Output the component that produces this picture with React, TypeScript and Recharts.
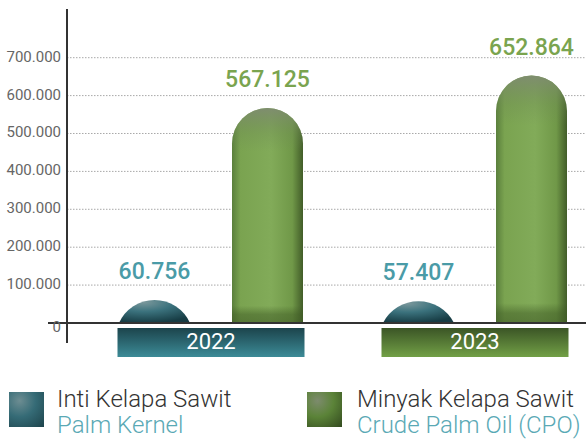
import { Bar, BarChart, CartesianGrid, LabelList, ReferenceLine, XAxis, YAxis } from "recharts";

const years = ["2022", "2023"];
const palmKernel = [60756, 57407];
const crudePalmOil = [567125, 652864];
const yTicks = [0, 100000, 200000, 300000, 400000, 500000, 600000, 700000];

const data = years.map((year, i) => ({
  year,
  pk: palmKernel[i],
  cpo: crudePalmOil[i],
}));

const FONT = "Roboto, 'DejaVu Sans', sans-serif";

function fmt(n: number) {
  return String(n).replace(/\B(?=(\d{3})+(?!\d))/g, ".");
}

// rounded top: full half-circle when tall enough, circular cap otherwise
function capsulePath(x: number, y: number, w: number, h: number) {
  const r = w / 2;
  const b = y + h;
  if (h >= r) {
    return `M${x},${b} L${x},${y + r} A${r},${r} 0 0 1 ${x + w},${y + r} L${x + w},${b} Z`;
  }
  const R = (w * w / 4 + h * h) / (2 * h);
  return `M${x},${b} A${R},${R} 0 0 1 ${x + w},${b} Z`;
}

function PkShape(props: any) {
  const { x, y, width, height } = props;
  if (!height || height <= 0) return null;
  return <path d={capsulePath(x, y, width, height)} fill="url(#pkFill)" />;
}

function CpoShape(props: any) {
  const { x, y, width, height } = props;
  if (!height || height <= 0) return null;
  const d = capsulePath(x, y, width, height);
  return (
    <g>
      <path d={d} fill="url(#cpoSide)" />
      <path d={d} fill="url(#cpoVert)" />
    </g>
  );
}

function YearTick(props: any) {
  const { x, y, payload, index } = props;
  const w = 187;
  const h = 29;
  const top = y - 15;
  return (
    <g>
      <rect x={x - w / 2} y={top} width={w} height={h} fill={index === 0 ? "url(#box22)" : "url(#box23)"} />
      <text
        x={x}
        y={top + h / 2 + 1}
        textAnchor="middle"
        dominantBaseline="middle"
        fill="#fff"
        fontSize={22}
        fontFamily={FONT}
      >
        {payload.value}
      </text>
    </g>
  );
}

function ValueTick(props: any) {
  const { x, y, payload } = props;
  const zero = payload.value === 0;
  return (
    <g>
      {zero && <line x1={x - 13} x2={x + 6} y1={y} y2={y} stroke="#333" strokeWidth={2} />}
      <text
        x={x}
        y={zero ? y + 5 : y}
        textAnchor="end"
        dominantBaseline="middle"
        fill="#666"
        fontSize={15}
        fontFamily={FONT}
      >
        {fmt(payload.value)}
      </text>
    </g>
  );
}

function Swatch({ kind, left }: { kind: "pk" | "cpo"; left: number }) {
  const bg =
    kind === "pk"
      ? "radial-gradient(circle at 30% 25%, #6d8d92 0%, #356b76 45%, #1d434b 100%)"
      : "radial-gradient(circle at 30% 25%, #7d8b6d 0%, #5b8338 45%, #334a1f 100%)";
  return <div style={{ position: "absolute", left, top: 392, width: 35, height: 35, background: bg }} />;
}

function LegendText({ left, top, sub }: { left: number; top: string; sub: string }) {
  return (
    <div
      style={{
        position: "absolute",
        left,
        top: 386,
        fontSize: 24,
        lineHeight: "26px",
        fontWeight: 300,
        whiteSpace: "nowrap",
      }}
    >
      <div style={{ color: "#333" }}>{top}</div>
      <div style={{ color: "#5aa9b5" }}>{sub}</div>
    </div>
  );
}

export default function App() {
  return (
    <div style={{ position: "relative", width: 586, height: 439, overflow: "hidden", fontFamily: FONT }}>
      <style>{"body{margin:0}"}</style>
      <BarChart
        width={607}
        height={372}
        data={data}
        margin={{ top: 9, right: 0, left: 0, bottom: 0 }}
        barSize={71}
        barGap={42}
        barCategoryGap={0}
      >
        <defs>
          <radialGradient id="pkFill" cx="0.35" cy="0.1" r="0.9">
            <stop offset="0%" stopColor="#7a979b" />
            <stop offset="45%" stopColor="#3b727d" />
            <stop offset="100%" stopColor="#173c44" />
          </radialGradient>
          <linearGradient id="cpoSide" x1="0" y1="0" x2="1" y2="0">
            <stop offset="0%" stopColor="#5a7f3c" />
            <stop offset="12%" stopColor="#7aa350" />
            <stop offset="55%" stopColor="#82ab59" />
            <stop offset="85%" stopColor="#709848" />
            <stop offset="100%" stopColor="#425d29" />
          </linearGradient>
          <linearGradient id="cpoVert" x1="0" y1="0" x2="0" y2="1">
            <stop offset="0%" stopColor="#7f8a72" stopOpacity={0.9} />
            <stop offset="12%" stopColor="#6f8a55" stopOpacity={0.3} />
            <stop offset="20%" stopColor="#6f8a55" stopOpacity={0} />
            <stop offset="92%" stopColor="#3e5a24" stopOpacity={0} />
            <stop offset="96%" stopColor="#3e5a24" stopOpacity={0.5} />
            <stop offset="100%" stopColor="#3e5a24" stopOpacity={0.6} />
          </linearGradient>
          <linearGradient id="box22" x1="0" y1="0" x2="0" y2="1">
            <stop offset="0%" stopColor="#1c444c" />
            <stop offset="100%" stopColor="#3c8b97" />
          </linearGradient>
          <linearGradient id="box23" x1="0" y1="0" x2="0" y2="1">
            <stop offset="0%" stopColor="#3b5526" />
            <stop offset="100%" stopColor="#72a046" />
          </linearGradient>
        </defs>
        <CartesianGrid
          horizontal
          vertical={false}
          stroke="#a8a8a8"
          strokeDasharray="1.5 1.5"
          horizontalValues={yTicks}
        />
        <XAxis
          dataKey="year"
          axisLine={false}
          tickLine={false}
          tickSize={0}
          tickMargin={0}
          height={29}
          padding={{ left: 12, right: 0 }}
          tick={<YearTick />}
          interval={0}
        />
        <YAxis
          type="number"
          domain={[-52800, 828500]}
          ticks={yTicks}
          allowDataOverflow
          width={67}
          tickLine={false}
          tickSize={4}
          tickMargin={2}
          axisLine={{ stroke: "#333", strokeWidth: 2 }}
          tick={<ValueTick />}
        />
        <ReferenceLine y={0} stroke="#333" strokeWidth={2} />
        <Bar dataKey="pk" shape={<PkShape />} isAnimationActive={false}>
          <LabelList
            dataKey="pk"
            position="top"
            offset={21}
            formatter={(v: any) => fmt(Number(v))}
            fill="#4a9ba7"
            fontSize={23}
            fontWeight={500}
            fontFamily={FONT}
          />
        </Bar>
        <Bar dataKey="cpo" shape={<CpoShape />} isAnimationActive={false}>
          <LabelList
            dataKey="cpo"
            position="top"
            offset={21}
            formatter={(v: any) => fmt(Number(v))}
            fill="#7aa44f"
            fontSize={23}
            fontWeight={500}
            fontFamily={FONT}
          />
        </Bar>
      </BarChart>
      <Swatch kind="pk" left={9} />
      <LegendText left={57} top="Inti Kelapa Sawit" sub="Palm Kernel" />
      <Swatch kind="cpo" left={307} />
      <LegendText left={357} top="Minyak Kelapa Sawit" sub="Crude Palm Oil (CPO)" />
    </div>
  );
}
